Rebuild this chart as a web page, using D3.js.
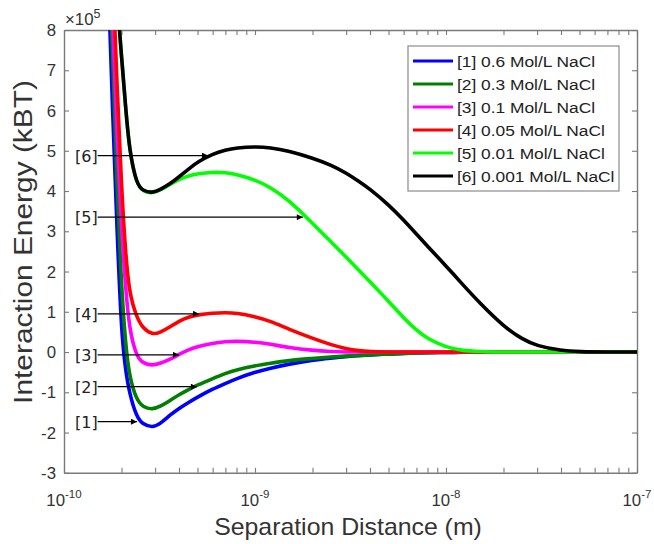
<!DOCTYPE html>
<html><head><meta charset="utf-8">
<script src="https://cdn.jsdelivr.net/npm/d3@7"></script>
<style>body{margin:0;background:#fff;}</style>
</head><body>
<svg id="chart" width="654" height="544"></svg>
<script>
// Separation distance (m)
const distance = [1.6e-10,1.7e-10,1.8e-10,1.9e-10,2.0e-10,2.1e-10,2.2e-10,2.4e-10,2.6e-10,2.9e-10,
  3.2e-10,3.6e-10,4.0e-10,4.5e-10,5e-10,6e-10,7e-10,8e-10,1e-9,1.2e-9,
  1.5e-9,2e-9,2.5e-9,3e-9,3.5e-9,4e-9,5e-9,6e-9,7e-9,8e-9,
  1e-8,1.2e-8,1.5e-8,2e-8,2.5e-8,3e-8,4e-8,5e-8,7e-8,1e-7];
// Interaction energy (x 10^5 kBT)
const energy06 = [13,9.5,5.8,2.9,0.45,-0.45,-1.02,-1.62,-1.8,-1.88,
  -1.78,-1.56,-1.4,-1.25,-1.12,-0.92,-0.78,-0.66,-0.5,-0.4,
  -0.3,-0.2,-0.15,-0.11,-0.09,-0.07,-0.05,-0.035,-0.025,-0.018,
  -0.01,-0.005,0,0,0,0,0,0,0,0];
const energy03 = [14,10.5,7.3,3.9,1.6,0.2,-0.62,-1.2,-1.37,-1.43,
  -1.35,-1.2,-1.06,-0.93,-0.82,-0.66,-0.53,-0.44,-0.34,-0.28,
  -0.21,-0.16,-0.12,-0.1,-0.085,-0.07,-0.05,-0.035,-0.025,-0.018,
  -0.01,-0.005,0,0,0,0,0,0,0,0];
const energy01 = [15,11.5,8.1,5.2,3.05,1.6,0.55,-0.12,-0.28,-0.34,
  -0.28,-0.18,-0.06,0.06,0.14,0.22,0.26,0.27,0.25,0.2,
  0.11,0.04,0.01,0,0,0,0,0,0,0,
  0,0,0,0,0,0,0,0,0,0];
const energy005 = [16,12.5,9.3,6.5,4.1,2.45,1.45,0.86,0.58,0.43,
  0.49,0.63,0.77,0.87,0.925,0.97,0.98,0.97,0.88,0.77,
  0.57,0.34,0.18,0.08,0.03,0.01,0,0,0,0,
  0,0,0,0,0,0,0,0,0,0];
const energy001 = [20,14.5,11.2,8.7,7.35,6.1,5.0,4.16,3.99,3.94,
  4.02,4.17,4.29,4.38,4.43,4.47,4.46,4.41,4.28,4.1,
  3.78,3.2,2.74,2.36,2.03,1.75,1.26,0.85,0.54,0.33,
  0.12,0.04,0.01,0,0,0,0,0,0,0];
const energy0001 = [20,14.5,11.2,8.7,7.35,6.1,5.0,4.16,4.0,3.95,
  4.04,4.18,4.35,4.55,4.72,4.92,5.02,5.07,5.1,5.08,
  5.0,4.82,4.65,4.45,4.24,4.05,3.66,3.28,2.93,2.63,
  2.14,1.72,1.22,0.64,0.32,0.15,0.035,0.008,0,0];

const seriesLabels = ["[1] 0.6 Mol/L NaCl","[2] 0.3 Mol/L NaCl","[3] 0.1 Mol/L NaCl",
  "[4] 0.05 Mol/L NaCl","[5] 0.01 Mol/L NaCl","[6] 0.001 Mol/L NaCl"];
const seriesValues = [energy06, energy03, energy01, energy005, energy001, energy0001];
const seriesColors = ["#0000ff","#007f00","#ff00ff","#ff0000","#00ff00","#000000"];

const yTicks = [-3,-2,-1,0,1,2,3,4,5,6,7,8];
const xTickExponents = [-10,-9,-8,-7];

// Annotations: label, energy level, arrow tip distance
const annotLabels = ["[6]","[5]","[4]","[3]","[2]","[1]"];
const annotEnergy = [4.88,3.35,0.95,-0.07,-0.86,-1.73];
const annotTip = [5.67e-10,1.78e-9,5.09e-10,4.0e-10,4.96e-10,2.41e-10];
const annotStart = 1.5e-10;

const svg = d3.select("#chart");
const L = 64, R = 637, T = 30, B = 472.8;
const x = d3.scaleLog().domain([1e-10,1e-7]).range([L,R]);
const y = d3.scaleLinear().domain([-3,8]).range([B,T]);
const FONT = "Liberation Sans, Arial, sans-serif";
const axisCol = "#7a7a7a", textCol = "#333";

svg.append("defs").append("clipPath").attr("id","clip")
  .append("rect").attr("x",L).attr("y",T).attr("width",R-L).attr("height",B-T);
svg.select("defs").append("marker").attr("id","arr")
  .attr("viewBox","0 0 10 10").attr("refX",10).attr("refY",5)
  .attr("markerWidth",7).attr("markerHeight",6).attr("markerUnits","userSpaceOnUse")
  .attr("orient","auto")
  .append("path").attr("d","M0,0 L10,5 L0,10 Z").attr("fill","#000");

// Axes (box with inward ticks)
const gx = svg.append("g").attr("transform",`translate(0,${B})`)
  .call(d3.axisBottom(x).tickSizeInner(-5).tickSizeOuter(0).tickFormat(""));
const gxt = svg.append("g").attr("transform",`translate(0,${T})`)
  .call(d3.axisTop(x).tickSizeInner(-5).tickSizeOuter(0).tickFormat(""));
const gy = svg.append("g").attr("transform",`translate(${L},0)`)
  .call(d3.axisLeft(y).tickValues(yTicks).tickSizeInner(-5).tickSizeOuter(0).tickFormat(""));
const gyr = svg.append("g").attr("transform",`translate(${R},0)`)
  .call(d3.axisRight(y).tickValues(yTicks).tickSizeInner(-5).tickSizeOuter(0).tickFormat(""));
[gx,gxt,gy,gyr].forEach(g=>{
  g.selectAll("path").attr("stroke",axisCol).attr("stroke-width",1.4);
  g.selectAll("line").attr("stroke",axisCol).attr("stroke-width",1.1);
});

// y tick labels
yTicks.forEach(v=>{
  svg.append("text").attr("transform",`translate(56,${y(v)+6}) scale(1.05,1)`)
    .attr("text-anchor","end").attr("font-family",FONT)
    .attr("font-size",16).attr("fill",textCol).text(v);
});
// x tick labels 10^n
xTickExponents.forEach(e=>{
  const t = svg.append("text").attr("transform",`translate(${x(Math.pow(10,e))},506) scale(1.05,1)`)
    .attr("text-anchor","middle").attr("font-family",FONT)
    .attr("font-size",16).attr("fill",textCol);
  t.append("tspan").text("10");
  t.append("tspan").attr("dy",-8).attr("font-size",11).text(String(e));
});
// exponent multiplier
const mt = svg.append("text").attr("transform",`translate(65,25) scale(1.05,1)`)
  .attr("font-family",FONT).attr("font-size",16).attr("fill",textCol);
mt.append("tspan").text("\u00d710");
mt.append("tspan").attr("dy",-7).attr("font-size",12).text("5");

// axis titles
svg.append("text").attr("transform",`translate(348,535) scale(1.08,1)`)
  .attr("text-anchor","middle").attr("font-family",FONT)
  .attr("font-size",23).attr("fill",textCol).text("Separation Distance (m)");
svg.append("text").attr("transform",`translate(32,242) rotate(-90) scale(1.15,1)`)
  .attr("text-anchor","middle").attr("font-family",FONT)
  .attr("font-size",26).attr("fill",textCol).text("Interaction Energy (kBT)");

// curves
const line = d3.line().x(d=>x(d[0])).y(d=>y(d[1])).curve(d3.curveBasis);
const cg = svg.append("g").attr("clip-path","url(#clip)");
seriesValues.forEach((vals,i)=>{
  cg.append("path").datum(distance.map((dv,j)=>[dv,vals[j]]))
    .attr("d",line).attr("fill","none").attr("stroke",seriesColors[i])
    .attr("stroke-width",3.6).attr("stroke-linejoin","round");
});

// annotations
annotLabels.forEach((lab,i)=>{
  const yy = y(annotEnergy[i]);
  svg.append("line").attr("x1",x(annotStart)).attr("x2",x(annotTip[i]))
    .attr("y1",yy).attr("y2",yy).attr("stroke","#000").attr("stroke-width",1.2)
    .attr("marker-end","url(#arr)");
  svg.append("text").attr("x",x(annotStart)).attr("y",yy+6)
    .attr("text-anchor","end").attr("font-family","DejaVu Sans, sans-serif")
    .attr("font-size",16).attr("fill","#222").text(lab);
});

// legend
const lg = svg.append("g");
lg.append("rect").attr("x",408).attr("y",46).attr("width",211).attr("height",145)
  .attr("fill","#fff").attr("stroke","#8a8a8a").attr("stroke-width",1.2);
seriesLabels.forEach((lab,i)=>{
  const cy = 61 + i*23;
  lg.append("line").attr("x1",413).attr("x2",453).attr("y1",cy).attr("y2",cy)
    .attr("stroke",seriesColors[i]).attr("stroke-width",3.2);
  lg.append("text").attr("transform",`translate(457,${cy+5.5}) scale(1.12,1)`)
    .attr("font-family",FONT).attr("font-size",15.5)
    .attr("fill","#222").text(lab);
});
</script>
</body></html>
